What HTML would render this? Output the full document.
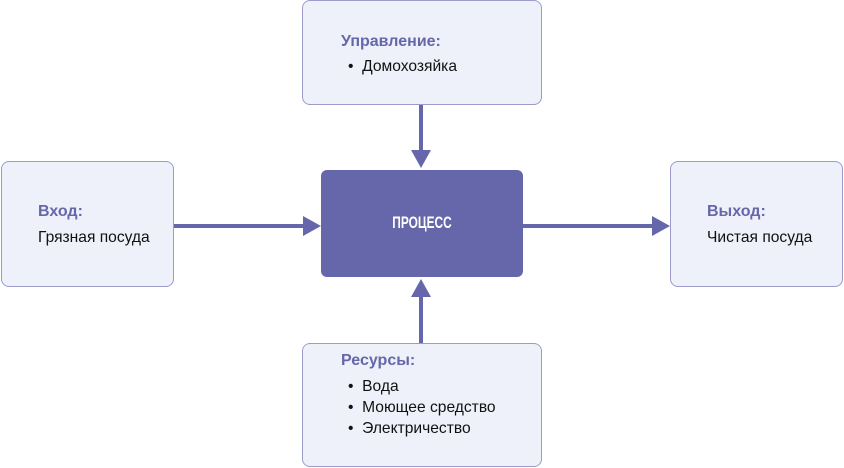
<!DOCTYPE html>
<html><head><meta charset="utf-8"><style>
body{margin:0;background:#fff;width:844px;height:468px;overflow:hidden;position:relative;font-family:"Liberation Sans","DejaVu Sans",sans-serif}
.b{position:absolute;background:#eef1f9;border:1px solid #9b9bcc;border-radius:8px;box-sizing:border-box}
.t{position:absolute;font-size:15.6px;color:#111;white-space:nowrap}
.h{position:absolute;font-size:16px;font-weight:bold;color:#6667aa;white-space:nowrap}
</style></head><body>
<div class="b" style="left:302px;top:0;width:240px;height:105px"></div>
<div class="b" style="left:1px;top:161px;width:173px;height:126px"></div>
<div class="b" style="left:670px;top:161px;width:173px;height:126px"></div>
<div class="b" style="left:302px;top:343px;width:240px;height:124px"></div>
<div style="position:absolute;left:321px;top:170px;width:202px;height:107px;background:#6667aa;border-radius:6px"></div>
<div style="position:absolute;left:321px;top:213px;width:202px;text-align:center;color:#fff;font-weight:bold;font-size:17px;transform:scaleX(0.7)">ПРОЦЕСС</div>
<svg width="844" height="468" style="position:absolute;left:0;top:0">
<g fill="#6667aa" stroke="#6667aa" stroke-width="4">
<line x1="421" y1="105" x2="421" y2="152"/>
<line x1="174" y1="226" x2="304" y2="226"/>
<line x1="522" y1="226" x2="653" y2="226"/>
<line x1="421" y1="296" x2="421" y2="343"/>
</g>
<g fill="#6667aa">
<polygon points="411,150 431,150 421,168"/>
<polygon points="303,216 303,236 321,226"/>
<polygon points="652,216 652,236 670,226"/>
<polygon points="411,297 431,297 421,279"/>
</g></svg>
<div class="h" style="left:341px;top:33px">Управление:</div>
<div class="t" style="left:348px;top:58px">•&nbsp;&nbsp;Домохозяйка</div>
<div class="h" style="left:38px;top:203px">Вход:</div>
<div class="t" style="left:38px;top:229px">Грязная посуда</div>
<div class="h" style="left:707px;top:203px">Выход:</div>
<div class="t" style="left:707px;top:229px">Чистая посуда</div>
<div class="h" style="left:341px;top:352px">Ресурсы:</div>
<div class="t" style="left:348px;top:378px">•&nbsp;&nbsp;Вода</div>
<div class="t" style="left:348px;top:399px">•&nbsp;&nbsp;Моющее средство</div>
<div class="t" style="left:348px;top:420px">•&nbsp;&nbsp;Электричество</div>
</body></html>
